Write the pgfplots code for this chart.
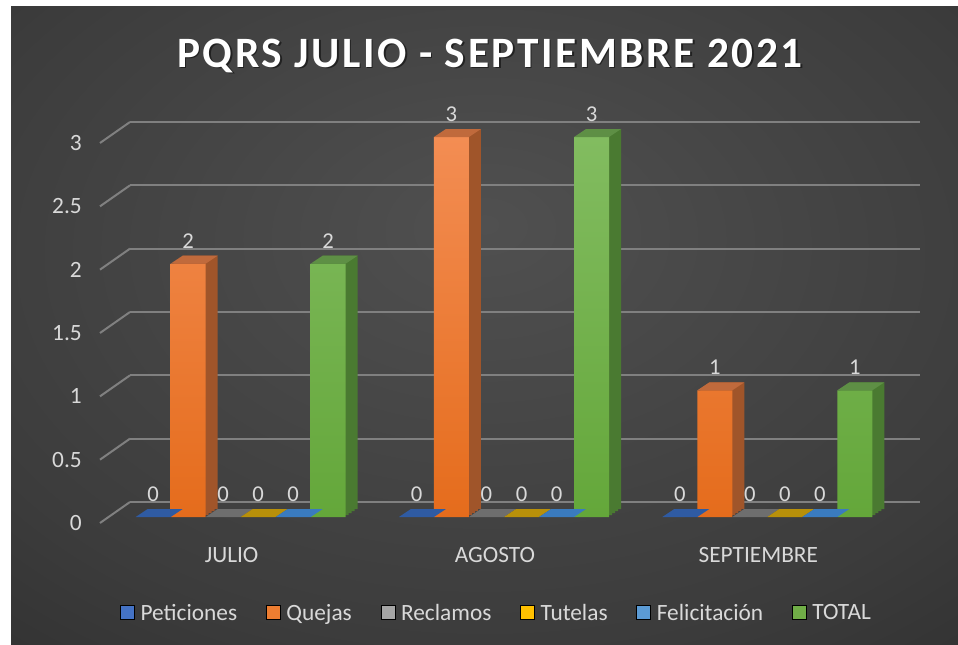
\documentclass[border=0pt]{standalone}
\usepackage{pgfplots}
\pgfplotsset{compat=1.18}
\usepackage{fontspec}
\setmainfont{Carlito}
\definecolor{pet}{HTML}{4472C4}
\definecolor{petd}{HTML}{2F5BA3}
\definecolor{que}{HTML}{ED7D31}
\definecolor{quetop}{HTML}{F38D53}
\definecolor{quebot}{HTML}{E56C1C}
\definecolor{queside}{HTML}{A0552A}
\definecolor{quetf}{HTML}{C06A3C}
\definecolor{rec}{HTML}{A5A5A5}
\definecolor{recd}{HTML}{6E6E6E}
\definecolor{tut}{HTML}{FFC000}
\definecolor{tutd}{HTML}{B8900A}
\definecolor{fel}{HTML}{5B9BD5}
\definecolor{feld}{HTML}{3A7BBF}
\definecolor{tot}{HTML}{70AD47}
\definecolor{tottop}{HTML}{82BC60}
\definecolor{totbot}{HTML}{64A73A}
\definecolor{totside}{HTML}{4A7A31}
\definecolor{tottf}{HTML}{5E8F45}
\definecolor{txt}{HTML}{D9D9D9}
\definecolor{gridc}{HTML}{808080}
\definecolor{bgA}{HTML}{505050}
\definecolor{bgB}{HTML}{3C3C3C}
\definecolor{bgC}{HTML}{242424}
\pgfdeclareradialshading{bgshade}{\pgfpoint{0bp}{8bp}}{color(0bp)=(bgA); color(30bp)=(bgB); color(55bp)=(bgC); color(80bp)=(bgC)}
% top face of a bar (or floor of a zero bar), 35px wide, 12px x 8px deep
\pgfdeclareplotmark{topface}{%
  \pgfpathmoveto{\pgfpoint{-13.125pt}{0pt}}%
  \pgfpathlineto{\pgfpoint{13.125pt}{0pt}}%
  \pgfpathlineto{\pgfpoint{22.125pt}{6pt}}%
  \pgfpathlineto{\pgfpoint{-4.125pt}{6pt}}%
  \pgfpathclose
  \pgfusepath{fill}}
\begin{document}
\begin{tikzpicture}
\begin{scope}[x=0.75pt,y=0.75pt]
\useasboundingbox (0,0) rectangle (958,644);
\fill[white] (0,0) rectangle (958,644);
\shade[shading=bgshade] (11,0) rectangle (958,637);
\node[text=black, opacity=0.5, font=\fontsize{32.5}{36}\selectfont\bfseries\addfontfeatures{LetterSpace=6}] at (491.5,586.5) {PQRS JULIO - SEPTIEMBRE 2021};
\node[text=white, font=\fontsize{32.5}{36}\selectfont\bfseries\addfontfeatures{LetterSpace=6}] at (490,588) {PQRS JULIO - SEPTIEMBRE 2021};
\end{scope}
\begin{axis}[
  at={(81.75pt,95.25pt)}, anchor=south west, scale only axis,
  width=592.5pt, height=285pt,
  xmin=-0.5, xmax=2.5, ymin=0, ymax=3,
  clip=false,
  bar width=0.1329,
  /pgf/number format/assume math mode=true,
  xtick={0,1,2}, xticklabels={JULIO,AGOSTO,SEPTIEMBRE},
  ytick={0,0.5,1,1.5,2,2.5,3},
  yticklabels={0,0.5,1,1.5,2,2.5,3},
  axis line style={draw=none}, major tick length=0pt,
  ymajorgrids, major grid style={draw=gridc, line width=1.5pt, xshift=15.75pt, yshift=11.25pt},
  tick label style={font=\fontsize{17.5}{20}\selectfont, text=txt},
  yticklabel style={anchor=east, inner sep=0pt, xshift=-20.25pt, yshift=-4.5pt},
  xticklabel style={anchor=north, inner sep=0pt, xshift=-6.75pt, yshift=-22.5pt},
  every node near coord/.append style={font=\fontsize{17}{20}\selectfont, text=txt, anchor=center, yshift=17pt},
  legend image code/.code={\fill[#1] (0pt,-5pt) rectangle (10.5pt,5.5pt);},
  legend columns=6,
  legend style={at={(0.493,-0.2526)}, anchor=center, draw=none, fill=none, text=txt,
    font=\fontsize{17.5}{20}\selectfont,
    nodes={inner xsep=4.5pt},
    /tikz/every even column/.append style={column sep=17pt}},
]
% zero-valued series: zero bars and their floors, with labels
\addplot[forget plot, ybar, draw=none, fill=none, bar shift=-0.3323] coordinates {(0,0) (1,0) (2,0)};
\addplot[forget plot, ybar, draw=none, fill=none, bar shift=-0.0665] coordinates {(0,0) (1,0) (2,0)};
\addplot[forget plot, ybar, draw=none, fill=none, bar shift=0.0665] coordinates {(0,0) (1,0) (2,0)};
\addplot[forget plot, ybar, draw=none, fill=none, bar shift=0.1994] coordinates {(0,0) (1,0) (2,0)};
\addplot[forget plot, only marks, mark=topface, mark options={fill=petd, draw=none}, x filter/.expression={x-0.3323}, nodes near coords] coordinates {(0,0) (1,0) (2,0)};
\addplot[forget plot, only marks, mark=topface, mark options={fill=recd, draw=none}, x filter/.expression={x-0.0665}, nodes near coords] coordinates {(0,0) (1,0) (2,0)};
\addplot[forget plot, only marks, mark=topface, mark options={fill=tutd, draw=none}, x filter/.expression={x+0.0665}, nodes near coords] coordinates {(0,0) (1,0) (2,0)};
\addplot[forget plot, only marks, mark=topface, mark options={fill=feld, draw=none}, x filter/.expression={x+0.1994}, nodes near coords] coordinates {(0,0) (1,0) (2,0)};
% depth of Quejas
\addplot[forget plot, ybar, fill=queside, draw=none, xshift=9pt, yshift=6pt, bar shift=-0.1994] coordinates {(0,2) (1,3) (2,1)};
\addplot[forget plot, ybar, fill=queside, draw=none, xshift=6.75pt, yshift=4.5pt, bar shift=-0.1994] coordinates {(0,2) (1,3) (2,1)};
\addplot[forget plot, ybar, fill=queside, draw=none, xshift=4.5pt, yshift=3pt, bar shift=-0.1994] coordinates {(0,2) (1,3) (2,1)};
\addplot[forget plot, ybar, fill=queside, draw=none, xshift=2.25pt, yshift=1.5pt, bar shift=-0.1994] coordinates {(0,2) (1,3) (2,1)};
\addplot[forget plot, only marks, mark=topface, mark options={fill=quetf, draw=none}, x filter/.expression={x-0.1994}, nodes near coords] coordinates {(0,2) (1,3) (2,1)};
% depth of TOTAL
\addplot[forget plot, ybar, fill=totside, draw=none, xshift=9pt, yshift=6pt, bar shift=0.3323] coordinates {(0,2) (1,3) (2,1)};
\addplot[forget plot, ybar, fill=totside, draw=none, xshift=6.75pt, yshift=4.5pt, bar shift=0.3323] coordinates {(0,2) (1,3) (2,1)};
\addplot[forget plot, ybar, fill=totside, draw=none, xshift=4.5pt, yshift=3pt, bar shift=0.3323] coordinates {(0,2) (1,3) (2,1)};
\addplot[forget plot, ybar, fill=totside, draw=none, xshift=2.25pt, yshift=1.5pt, bar shift=0.3323] coordinates {(0,2) (1,3) (2,1)};
\addplot[forget plot, only marks, mark=topface, mark options={fill=tottf, draw=none}, x filter/.expression={x+0.3323}, nodes near coords] coordinates {(0,2) (1,3) (2,1)};
% front faces
\addplot[forget plot, ybar, draw=none, top color=quetop, bottom color=quebot, bar shift=-0.1994] coordinates {(0,2) (1,3) (2,1)};
\addplot[forget plot, ybar, draw=none, top color=tottop, bottom color=totbot, bar shift=0.3323] coordinates {(0,2) (1,3) (2,1)};
% diagonal edges of the floor and wall
\pgfplotsinvokeforeach{0,0.5,1,1.5,2,2.5,3}{
  \draw[gridc, line width=1.5pt] ([xshift=-6.75pt,yshift=-4.5pt]axis cs:-0.5,#1) -- ([xshift=15.75pt,yshift=11.25pt]axis cs:-0.5,#1);
}
\addlegendimage{fill=pet}\addlegendentry{Peticiones}
\addlegendimage{fill=que}\addlegendentry{Quejas}
\addlegendimage{fill=rec}\addlegendentry{Reclamos}
\addlegendimage{fill=tut}\addlegendentry{Tutelas}
\addlegendimage{fill=fel}\addlegendentry{Felicitación}
\addlegendimage{fill=tot}\addlegendentry{TOTAL}
\end{axis}
\end{tikzpicture}
\end{document}
